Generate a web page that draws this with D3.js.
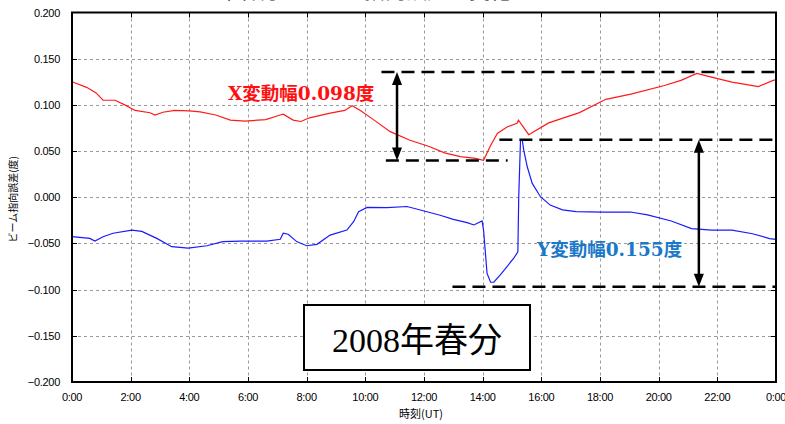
<!DOCTYPE html>
<html><head><meta charset="utf-8">
<script src="https://cdn.jsdelivr.net/npm/d3@7"></script>
<style>body{margin:0;background:#fff}svg{display:block}</style>
</head><body>
<script>
// ---- data ----
const xTicksHours = [0,2,4,6,8,10,12,14,16,18,20,22,24];
const xTickLabels = ["0:00","2:00","4:00","6:00","8:00","10:00","12:00","14:00","16:00","18:00","20:00","22:00","0:00"];
const yTicks = [0.2,0.15,0.1,0.05,0,-0.05,-0.1,-0.15,-0.2];

// X (red) series: hour, value (deg)
const xHours = [0,0.5,0.82,1.06,1.47,1.8,2.15,2.66,2.83,3.1,3.5,4.0,4.37,4.9,5.4,5.9,6.6,7.1,7.2,7.54,7.8,8.1,8.8,9.3,9.55,9.83,10.3,10.85,11.5,12.2,12.7,13.24,13.75,14.03,14.27,14.5,14.83,15.17,15.22,15.57,16.25,17.3,18.2,19.05,20.2,20.76,21.3,21.8,22.5,23.4,23.9,24];
const xValues = [0.125,0.119,0.113,0.105,0.105,0.100,0.094,0.0915,0.089,0.092,0.094,0.0935,0.0925,0.089,0.0835,0.0825,0.084,0.089,0.090,0.0835,0.082,0.086,0.091,0.094,0.099,0.094,0.0835,0.071,0.062,0.0547,0.048,0.044,0.042,0.040,0.056,0.069,0.076,0.080,0.0835,0.0677,0.0805,0.0916,0.106,0.1117,0.121,0.1265,0.134,0.130,0.1247,0.1198,0.1265,0.127];

// Y (blue) series
const yHours = [0,0.61,0.78,1.06,1.4,2.04,2.38,2.89,3.4,3.96,4.6,5.14,5.73,6.64,7.1,7.2,7.37,7.66,8.0,8.35,8.8,9.37,9.6,9.77,10.06,10.74,11.42,12.1,12.55,13.0,13.47,13.7,13.98,14.03,14.15,14.27,14.38,14.6,14.83,15.06,15.2,15.23,15.29,15.35,15.4,15.52,15.69,15.97,16.3,16.72,17.19,18.1,19.04,19.62,20.43,21.12,21.81,22.5,23.2,23.78,24];
const yValues = [-0.0427,-0.0445,-0.0474,-0.0427,-0.039,-0.0355,-0.037,-0.0445,-0.0535,-0.055,-0.0525,-0.048,-0.0474,-0.0474,-0.0455,-0.039,-0.040,-0.048,-0.0525,-0.051,-0.041,-0.0355,-0.0265,-0.0157,-0.011,-0.0113,-0.010,-0.0157,-0.0195,-0.024,-0.0275,-0.030,-0.0257,-0.0355,-0.0825,-0.092,-0.092,-0.084,-0.075,-0.066,-0.059,0.0006,0.062,0.062,0.051,0.033,0.015,0.0006,-0.0085,-0.0136,-0.0155,-0.016,-0.016,-0.019,-0.0257,-0.034,-0.0355,-0.0355,-0.0395,-0.0447,-0.0455];

// annotation levels
const xRangeLevels = [0.1355, 0.0398];
const yRangeLevels = [0.0623, -0.0969];
const xLabel = "X変動幅0.098度";
const yLabel = "Y変動幅0.155度";
const seasonLabel = "2008年春分";
const yAxisTitle = "ビーム指向誤差(度)";
const xAxisTitle = "時刻(UT)";

// ---- layout ----
const W = 785, H = 424;
const m = {left:72, right:9, top:12.5, bottom:42};
const svg = d3.select("body").append("svg").attr("width",W).attr("height",H);

const x = d3.scaleLinear().domain([0,24]).range([m.left, W-m.right]);
const y = d3.scaleLinear().domain([-0.2,0.2]).range([H-m.bottom, m.top]);

// clipped title fragment at top (cut off in the reference too)
svg.append("text").attr("x",150).attr("y",-2).attr("font-size",21)
  .attr("font-family","'Noto Sans CJK JP'").attr("fill","#222")
  .text("（2008年春分のビーム指向誤差の変化）");

// grid
const grid = svg.append("g").attr("stroke","#9a9a9a").attr("stroke-width",1).attr("stroke-dasharray","3,3");
grid.selectAll("line.v").data(xTicksHours.slice(1,-1)).join("line")
  .attr("x1",d=>Math.round(x(d))+0.5).attr("x2",d=>Math.round(x(d))+0.5)
  .attr("y1",m.top).attr("y2",H-m.bottom);
grid.selectAll("line.h").data(yTicks.slice(1,-1)).join("line")
  .attr("class","h")
  .attr("x1",m.left).attr("x2",W-m.right)
  .attr("y1",d=>Math.round(y(d))+0.5).attr("y2",d=>Math.round(y(d))+0.5);

// inner ticks
const tk = svg.append("g").attr("stroke","#000").attr("stroke-width",1);
xTicksHours.slice(1,-1).forEach(h=>{
  const px = Math.round(x(h))+0.5;
  tk.append("line").attr("x1",px).attr("x2",px).attr("y1",m.top).attr("y2",m.top+5);
  tk.append("line").attr("x1",px).attr("x2",px).attr("y1",H-m.bottom-5).attr("y2",H-m.bottom);
});
yTicks.slice(1,-1).forEach(v=>{
  const py = Math.round(y(v))+0.5;
  tk.append("line").attr("x1",m.left).attr("x2",m.left+5).attr("y1",py).attr("y2",py);
  tk.append("line").attr("x1",W-m.right-5).attr("x2",W-m.right).attr("y1",py).attr("y2",py);
});

// axes labels
const fmt = d3.format(".3f");
svg.append("g").selectAll("text").data(yTicks).join("text")
  .attr("x",m.left-12).attr("y",d=>y(d)+4).attr("text-anchor","end")
  .attr("font-family","'Liberation Sans',Arial,sans-serif").attr("font-size",11).attr("letter-spacing","-0.3")
  .text(d=>fmt(d));
svg.append("g").selectAll("text").data(xTicksHours).join("text")
  .attr("x",(d)=>x(d)).attr("y",H-m.bottom+19).attr("text-anchor","middle")
  .attr("font-family","'Liberation Sans',Arial,sans-serif").attr("font-size",11).attr("letter-spacing","-0.3")
  .text((d,i)=>xTickLabels[i]);

svg.append("text").attr("transform",`translate(17,${(m.top+H-m.bottom)/2+2}) rotate(-90)`)
  .attr("text-anchor","middle").attr("font-family","'Noto Sans CJK JP'").attr("font-size",10)
  .text(yAxisTitle);
svg.append("text").attr("x",399).attr("y",418)
  .attr("font-family","'Noto Sans CJK JP'").attr("font-size",11)
  .text(xAxisTitle);

// series
const line = d3.line().x(d=>x(d[0])).y(d=>y(d[1]));
svg.append("path").datum(xHours.map((h,i)=>[h,xValues[i]]))
  .attr("d",line).attr("fill","none").attr("stroke","#ff1a1a").attr("stroke-width",1.2);
svg.append("path").datum(yHours.map((h,i)=>[h,yValues[i]]))
  .attr("d",line).attr("fill","none").attr("stroke","#1a1aff").attr("stroke-width",1.2);

// frame
svg.append("rect").attr("x",m.left).attr("y",m.top).attr("width",W-m.right-m.left).attr("height",H-m.bottom-m.top)
  .attr("fill","none").attr("stroke","#000").attr("stroke-width",2);

// annotations
const ann = svg.append("g");
function dashed(h1,h2,v){
  ann.append("line").attr("x1",x(h1)).attr("x2",x(h2)).attr("y1",y(v)).attr("y2",y(v))
    .attr("stroke","#000").attr("stroke-width",2.5).attr("stroke-dasharray","13,7");
}
function arrow(h,v1,v2){
  const px=x(h), ya=y(v1), yb=y(v2);
  ann.append("line").attr("x1",px).attr("x2",px).attr("y1",ya+10).attr("y2",yb-10)
    .attr("stroke","#000").attr("stroke-width",2.5);
  ann.append("path").attr("d",`M${px},${ya} L${px-5},${ya+13} L${px+5},${ya+13} Z`).attr("fill","#000");
  ann.append("path").attr("d",`M${px},${yb} L${px-5},${yb-13} L${px+5},${yb-13} Z`).attr("fill","#000");
}
dashed(10.55,24,xRangeLevels[0]);
dashed(10.7,14.85,xRangeLevels[1]);
arrow(11.08,xRangeLevels[0],xRangeLevels[1]);
dashed(14.57,24,yRangeLevels[0]);
dashed(12.97,24,yRangeLevels[1]);
arrow(21.37,yRangeLevels[0],yRangeLevels[1]);

svg.append("text").attr("x",228).attr("y",100).attr("font-family","'DejaVu Serif','Noto Sans CJK JP',serif")
  .attr("font-weight","bold").attr("font-size",18.5).attr("fill","#ff1010").text(xLabel);
svg.append("text").attr("x",537).attr("y",256).attr("font-family","'DejaVu Serif','Noto Sans CJK JP',serif")
  .attr("font-weight","bold").attr("font-size",18.5).attr("fill","#1a78c8").text(yLabel);

// season box
ann.append("rect").attr("x",304).attr("y",305).attr("width",226).attr("height",65)
  .attr("fill","#fff").attr("stroke","#000").attr("stroke-width",2);
svg.append("text").attr("x",417).attr("y",352).attr("text-anchor","middle")
  .attr("font-family","'Liberation Serif','Noto Sans CJK JP',serif").attr("font-size",34)
  .text(seasonLabel);
</script>
</body></html>
